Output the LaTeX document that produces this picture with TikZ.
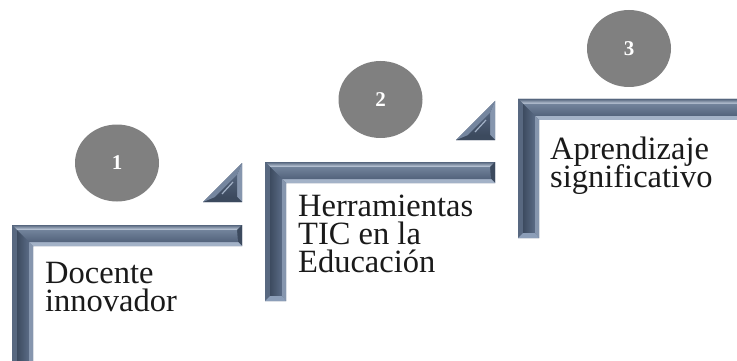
\documentclass[tikz,border=0pt]{standalone}
\usepackage{fontspec}
\setmainfont{Liberation Serif}
\usetikzlibrary{shapes.geometric}
\definecolor{stepdark}{HTML}{4A5A72}
\definecolor{toplight}{HTML}{C9D4E3}
\definecolor{topdark}{HTML}{56667E}
\definecolor{hfacetop}{HTML}{72839B}
\definecolor{hfacebot}{HTML}{52627B}
\definecolor{hbotbevel}{HTML}{A3B2C7}
\definecolor{endbevel}{HTML}{3C4A5E}
\definecolor{vleft}{HTML}{586880}
\definecolor{vfaceL}{HTML}{3D4B60}
\definecolor{vfaceR}{HTML}{5A6B85}
\definecolor{vright}{HTML}{8696AE}
\definecolor{vbottom}{HTML}{8C9EB8}
\definecolor{hypbevel}{HTML}{75869F}
\definecolor{circgray}{HTML}{808080}
\definecolor{textdark}{HTML}{1A1A1A}
\newcommand\stepshape[4]{% #1 L, #2 T, #3 R, #4 B
  \fill[stepdark] (#1,#2) -- (#3,#2) -- (#3,#2+21) -- (#1+21,#2+21) -- (#1+21,#4) -- (#1,#4) -- cycle;
  \shade[top color=topdark, bottom color=toplight] (#1,#2) -- (#3,#2) -- (#3-5,#2+5) -- (#1+5,#2+5) -- cycle;
  \fill[endbevel] (#3,#2) -- (#3,#2+21) -- (#3-5,#2+16) -- (#3-5,#2+5) -- cycle;
  \fill[hbotbevel] (#3,#2+21) -- (#1+21,#2+21) -- (#1+17,#2+17) -- (#3-4,#2+17) -- cycle;
  \shade[top color=hfacetop, bottom color=hfacebot] (#1+5,#2+5) -- (#3-5,#2+5) -- (#3-4,#2+17) -- (#1+17,#2+17) -- cycle;
  \fill[vleft] (#1,#2) -- (#1+5,#2+5) -- (#1+5,#4-5) -- (#1,#4) -- cycle;
  \shade[left color=vfaceL, right color=vfaceR] (#1+5,#2+5) -- (#1+17,#2+17) -- (#1+17,#4-5) -- (#1+5,#4-5) -- cycle;
  \fill[vright] (#1+21,#2+21) -- (#1+21,#4) -- (#1+17,#4-5) -- (#1+17,#2+17) -- cycle;
  \fill[vbottom] (#1,#4) -- (#1+21,#4) -- (#1+17,#4-5) -- (#1+5,#4-5) -- cycle;
}
\newcommand\trishape[2]{% #1 R, #2 top
  \fill[stepdark] (#1,#2) -- (#1,#2+39) -- (#1-39,#2+39) -- cycle;
  \fill[vright] (#1,#2) -- (#1,#2+39) -- (#1-5,#2+34) -- (#1-5,#2+12) -- cycle;
  \fill[endbevel] (#1,#2+39) -- (#1-39,#2+39) -- (#1-27,#2+34) -- (#1-5,#2+34) -- cycle;
  \fill[hypbevel] (#1-39,#2+39) -- (#1,#2) -- (#1-5,#2+12) -- (#1-27,#2+34) -- cycle;
  \shade[top color=hfacebot, bottom color=endbevel] (#1-5,#2+12) -- (#1-5,#2+34) -- (#1-27,#2+34) -- cycle;
  \draw[hbotbevel, line width=1.2pt] (#1-20,#2+31) -- (#1-9,#2+19);
}
\newcommand\steptextfont{\fontsize{32.5}{28}\selectfont\lineskiplimit=-100pt\relax\lineskip=0pt\relax}
\newcommand\firststrut{\rule{0pt}{24pt}}
\tikzset{
  numball/.style={ellipse, fill=circgray, minimum width=84pt, minimum height=77pt, inner sep=0pt,
    text=white, font=\fontsize{21}{21}\selectfont\bfseries},
  steptext/.style={anchor=north west, inner sep=0pt, align=left, text=textdark,
    font=\steptextfont}
}
\begin{document}
\begin{tikzpicture}[x=1pt,y=-1pt]
\useasboundingbox (0,0) rectangle (737,361);
\clip (0,0) rectangle (737,361);
\fill[white] (0,0) rectangle (737,361);
% steps
\stepshape{12}{225}{242}{366}
\stepshape{265}{162}{495}{301}
\stepshape{518}{99}{760}{238}
% triangles
\trishape{242}{163}
\trishape{495}{101}
% numbered circles
\node[numball] (c1) at (117,163) {1};
\node[numball] (c2) at (380.5,99.5) {2};
\node[numball] (c3) at (629,48.5) {3};
% texts
\node[steptext] (t1) at (45,259) {\firststrut Docente\\innovador};
\node[steptext] (t2) at (298,192) {\firststrut Herramientas\\TIC en la\\Educación};
\node[steptext] (t3) at (550,135) {\firststrut Aprendizaje\\significativo};
\end{tikzpicture}
\end{document}
